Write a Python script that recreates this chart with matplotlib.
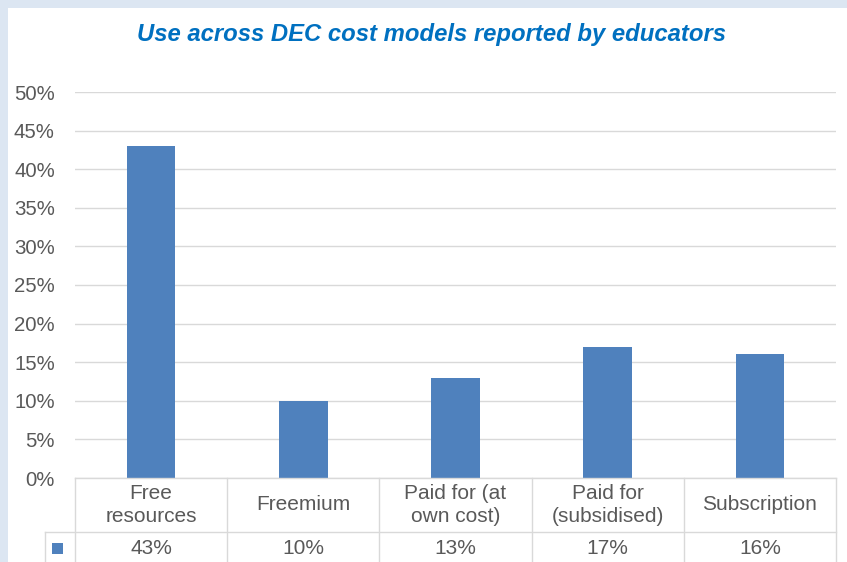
import matplotlib
matplotlib.use('Agg')
import matplotlib.pyplot as plt
from matplotlib.patches import Rectangle
from matplotlib.ticker import FuncFormatter, MultipleLocator

categories = ['Free\nresources', 'Freemium', 'Paid for (at\nown cost)',
              'Paid for\n(subsidised)', 'Subscription']
values = [0.43, 0.10, 0.13, 0.17, 0.16]
value_labels = ['43%', '10%', '13%', '17%', '16%']
title = 'Use across DEC cost models reported by educators'

W, H = 847, 562
plt.rcParams['font.family'] = ['Liberation Sans', 'DejaVu Sans']

fig = plt.figure(figsize=(W / 100., H / 100.), dpi=100)
fig.patch.set_facecolor('#DCE6F2')


def fx(x):
    return x / float(W)


def fy(y):
    return 1 - y / float(H)


# white chart area inside the light blue frame
fig.patches.append(Rectangle((fx(8), 0), 1 - fx(8), fy(8), transform=fig.transFigure,
                             facecolor='white', edgecolor='none', zorder=-5))

left, right, top, bottom = 75, 836, 92, 478
ax = fig.add_axes([fx(left), fy(bottom), fx(right - left), fy(top) - fy(bottom)])
ax.set_facecolor('none')
ax.set_zorder(2)

grey = '#D9D9D9'
txt = '#595959'

ax.bar(range(len(values)), values, width=0.32, color='#4F81BD', zorder=3)
ax.set_xlim(-0.5, len(values) - 0.5)
ax.set_ylim(0, 0.5)
ax.yaxis.set_major_locator(MultipleLocator(0.05))
ax.yaxis.set_major_formatter(FuncFormatter(lambda v, p: '{:.0f}%'.format(v * 100)))
ax.grid(axis='y', color=grey, lw=1.0, zorder=0)
ax.set_axisbelow(True)
for s in ax.spines.values():
    s.set_visible(False)
ax.set_xticks([])
ax.tick_params(axis='y', length=0, pad=14.5, labelsize=14.7, labelcolor=txt)

fig.text(fx(431), fy(34), title, ha='center', va='center', fontsize=17.2,
         fontweight='bold', fontstyle='italic', color='#0070C0')

# data table under the chart
row1_top, row2_top = 478, 532
cw = (right - left) / float(len(values))
lk = dict(color=grey, lw=1.0, transform=fig.transFigure, clip_on=False)
fig.lines.append(plt.Line2D([fx(left), fx(right)], [fy(row1_top)] * 2, **lk))
fig.lines.append(plt.Line2D([fx(45), fx(right)], [fy(row2_top)] * 2, **lk))
fig.lines.append(plt.Line2D([fx(45), fx(45)], [fy(row2_top), 0], **lk))
for i in range(len(values) + 1):
    xx = fx(left + i * cw)
    fig.lines.append(plt.Line2D([xx, xx], [fy(row1_top), 0], **lk))

for i, (c, v) in enumerate(zip(categories, value_labels)):
    xc = fx(left + (i + 0.5) * cw)
    fig.text(xc, fy(505), c, ha='center', va='center', fontsize=15, color=txt,
             linespacing=1.25)
    fig.text(xc, fy(549), v, ha='center', va='center', fontsize=15, color=txt)

fig.patches.append(Rectangle((fx(52), fy(554)), fx(11), fy(543) - fy(554),
                             transform=fig.transFigure, facecolor='#4F81BD',
                             edgecolor='none'))

plt.savefig('out.png', dpi=100, facecolor=fig.get_facecolor())
